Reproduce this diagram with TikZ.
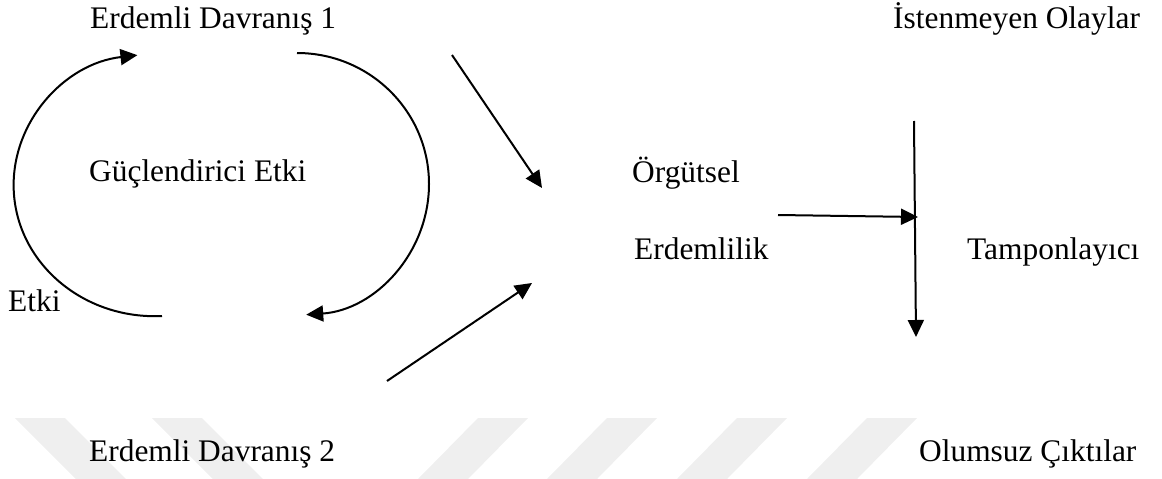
\documentclass[tikz,border=0pt]{standalone}
\usepackage{fontspec}
\setmainfont{Liberation Serif}
\usetikzlibrary{arrows.meta}
\definecolor{wmgray}{RGB}{239,239,239}
\begin{document}
\begin{tikzpicture}[x=1pt,y=1pt,
  lbl/.style={inner sep=0pt, anchor=base west, font=\fontsize{31.4}{36}\selectfont},
  arr/.style={line width=2pt, -{Triangle[length=17pt,width=16pt]}},
  loop/.style={line width=2pt, -{Triangle[length=17pt,width=16pt]}}]
\useasboundingbox (0,0) rectangle (1162,-479);

% faint band of slanted bars along the bottom
\foreach \x in {15,152}
  \fill[wmgray] (\x,-418) -- (\x+50,-418) -- (\x+111,-479) -- (\x+61,-479) -- cycle;
\foreach \x in {478,607,737,867}
  \fill[wmgray] (\x,-418) -- (\x+50,-418) -- (\x-10,-479) -- (\x-60,-479) -- cycle;

% labels
\node[lbl] (ed1) at (90,-28) {Erdemli Davranış 1};
\node[lbl] (ist) at (893,-28) {İstenmeyen Olaylar};
\node[lbl] (guc) at (89,-181) {Güçlendirici Etki};
\node[lbl] (etki) at (8,-311) {Etki};
\node[lbl] (org) at (632,-182) {Örgütsel};
\node[lbl] (erd) at (634,-259) {Erdemlilik};
\node[lbl] (tamp) at (967,-259) {Tamponlayıcı};
\node[lbl] (ed2) at (89,-461) {Erdemli Davranış 2};
\node[lbl] (olm) at (919,-461) {Olumsuz Çıktılar};

% reinforcing loop
\draw[loop] (162,-316)
  arc[start angle=273, end angle=97, x radius=141, y radius=131];
\draw[loop] (297,-53)
  arc[start angle=90, end angle=-86, x radius=132, y radius=131];

% arrow end points
\coordinate (d1s) at (452,-55);
\coordinate (d1e) at (542,-188);
\coordinate (d2s) at (387,-381);
\coordinate (d2e) at (532,-283);
\coordinate (hs) at (778,-215);
\coordinate (he) at (918,-217);
\coordinate (vs) at (914,-121);
\coordinate (ve) at (916,-337);

\draw[arr] (d1s) -- (d1e);
\draw[arr] (d2s) -- (d2e);
\draw[arr] (hs) -- (he);
\draw[arr] (vs) -- (ve);
\end{tikzpicture}
\end{document}
